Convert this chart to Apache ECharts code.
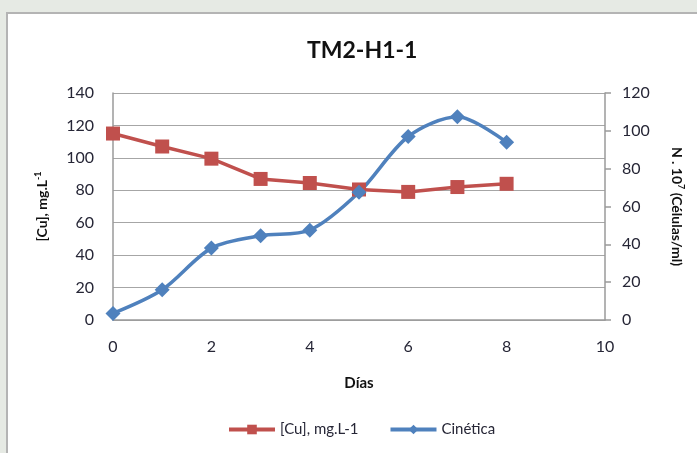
<!DOCTYPE html>
<html>
<head>
<meta charset="utf-8">
<script src="https://cdn.jsdelivr.net/npm/echarts@6/dist/echarts.min.js"></script>
<style>
html,body{margin:0;padding:0;width:697px;height:453px;overflow:hidden;background:#e6eae4;}
#frame{position:absolute;left:6px;top:12px;width:691px;height:441px;background:#fff;border-left:2px solid #b4b4b4;border-top:2px solid #b4b4b4;box-sizing:border-box;}
#chart{position:absolute;left:0;top:0;width:697px;height:453px;}
</style>
</head>
<body>
<div id="frame"></div>
<div id="chart"></div>
<script>
var dias = [0, 1, 2, 3, 4, 5, 6, 7, 8];
var cuValues = [115, 107, 99.5, 87, 84.5, 80.5, 79, 82, 84];
var cineticaValues = [3.5, 16, 38, 44.5, 47.5, 67.5, 97, 107.5, 94];
var xTicks = [0, 2, 4, 6, 8, 10];

function pairs(xs, ys){ return xs.map(function(x,i){ return [x, ys[i]]; }); }

var chart = echarts.init(document.getElementById('chart'), null, {renderer:'canvas'});
var font = 'Lato, "Open Sans", sans-serif';
var labelColor = '#262636';
chart.setOption({
  animation:false,
  backgroundColor:'transparent',
  textStyle:{fontFamily:font},
  title:{
    text:'TM2-H1-1', left:302, top:34,
    textStyle:{fontFamily:font, fontSize:23, fontWeight:'bold', color:'#111'}
  },
  legend:{
    bottom:11, left:222, itemWidth:46, itemHeight:12, itemGap:30,
    textStyle:{fontFamily:font, fontSize:15, color:labelColor},
    data:[{name:'[Cu], mg.L-1', lineStyle:{width:4}},{name:'Cinética', lineStyle:{width:4}}]
  },
  grid:{left:113, right:92, top:93, bottom:133},
  xAxis:{
    type:'value', min:0, max:10, interval:2,
    name:'Días', nameLocation:'middle', nameGap:56,
    nameTextStyle:{fontFamily:font, fontSize:15, fontWeight:'bold', color:'#111'},
    axisLine:{show:true, lineStyle:{color:'#9a9a9a', width:1.5}},
    axisTick:{show:false},
    splitLine:{show:false},
    axisLabel:{fontFamily:font, fontSize:16, color:labelColor, margin:19,
      formatter:function(v){ return xTicks.indexOf(v)>=0 ? String(v) : ''; }}
  },
  yAxis:[{
    type:'value', min:0, max:140, interval:20, position:'left',
    name:'[Cu], mg.L{sup|-1}', nameLocation:'middle', nameGap:62, nameRotate:90,
    nameTextStyle:{fontFamily:font, fontSize:14, fontWeight:'bold', color:'#111',
      rich:{sup:{fontFamily:font, fontSize:9, fontWeight:'bold', color:'#111', verticalAlign:'top', padding:[0,0,8,0]}}},
    axisLine:{show:true, lineStyle:{color:'#9a9a9a', width:1.5}},
    axisTick:{show:false},
    splitLine:{show:true, lineStyle:{color:'#a6a6a6', width:1.2}},
    axisLabel:{fontFamily:font, fontSize:16, color:labelColor, margin:19}
  },{
    type:'value', min:0, max:120, interval:20, position:'right',
    name:'N . 10{sup|7} (Células/ml)', nameLocation:'middle', nameGap:63, nameRotate:-90,
    nameTextStyle:{fontFamily:font, fontSize:14, fontWeight:'bold', color:'#111',
      rich:{sup:{fontFamily:font, fontSize:9, fontWeight:'bold', color:'#111', verticalAlign:'top', padding:[0,0,8,0]}}},
    axisLine:{show:true, lineStyle:{color:'#9a9a9a', width:1.5}},
    axisTick:{show:true, inside:false, length:6, lineStyle:{color:'#9a9a9a', width:1.5}},
    splitLine:{show:false},
    axisLabel:{fontFamily:font, fontSize:16, color:labelColor, margin:17}
  }],
  series:[{
    name:'[Cu], mg.L-1', type:'line', yAxisIndex:0,
    data:pairs(dias, cuValues),
    symbol:'rect', symbolSize:14,
    lineStyle:{color:'#C0504D', width:3.5},
    itemStyle:{color:'#C0504D'}
  },{
    name:'Cinética', type:'line', yAxisIndex:1, smooth:0.3,
    data:pairs(dias, cineticaValues),
    symbol:'diamond', symbolSize:15,
    lineStyle:{color:'#4F81BD', width:3.5},
    itemStyle:{color:'#4F81BD'}
  }]
});
</script>
</body>
</html>
